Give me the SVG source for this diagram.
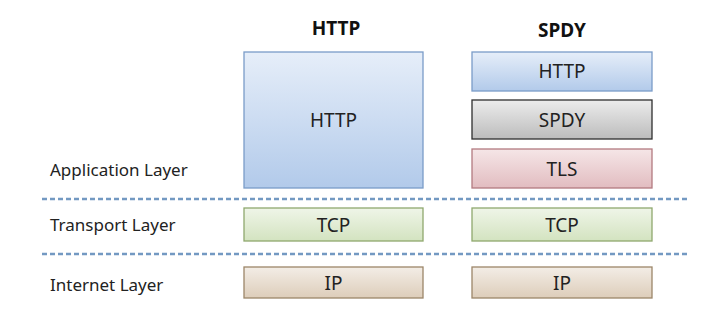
<svg xmlns="http://www.w3.org/2000/svg" width="712" height="310" viewBox="0 0 712 310">
<defs>
<linearGradient id="gBlue" x1="0" y1="0" x2="0" y2="1"><stop offset="0" stop-color="#e6eef9"/><stop offset="1" stop-color="#b2caea"/></linearGradient>
<linearGradient id="gGray" x1="0" y1="0" x2="0" y2="1"><stop offset="0" stop-color="#ececec"/><stop offset="1" stop-color="#bcbcbc"/></linearGradient>
<linearGradient id="gPink" x1="0" y1="0" x2="0" y2="1"><stop offset="0" stop-color="#f5e6e7"/><stop offset="1" stop-color="#e2bcc0"/></linearGradient>
<linearGradient id="gGreen" x1="0" y1="0" x2="0" y2="1"><stop offset="0" stop-color="#eff5e8"/><stop offset="1" stop-color="#d3e3c0"/></linearGradient>
<linearGradient id="gTan" x1="0" y1="0" x2="0" y2="1"><stop offset="0" stop-color="#f3ede6"/><stop offset="1" stop-color="#ddcdba"/></linearGradient>
<style>
text{font-family:"Noto Sans","DejaVu Sans",sans-serif;fill:#222;}
.lbl{font-size:17px;}
.box{font-size:19px;text-anchor:middle;}
.hdr{font-size:19px;font-weight:bold;text-anchor:middle;fill:#111;}
.blue{fill:url(#gBlue);stroke:#7a9cc8;stroke-width:1.3;}
.gray{fill:url(#gGray);stroke:#2e2e2e;stroke-width:1.3;}
.pink{fill:url(#gPink);stroke:#b37a80;stroke-width:1.3;}
.green{fill:url(#gGreen);stroke:#8fa86e;stroke-width:1.3;}
.tan{fill:url(#gTan);stroke:#9c8669;stroke-width:1.3;}
.dash{stroke:#7399c2;stroke-width:2.5;stroke-dasharray:5 3;fill:none;}
</style>
</defs>
<g id="headers">
<text class="hdr" x="336" y="35">HTTP</text>
<text class="hdr" x="562" y="37">SPDY</text>
</g>
<g id="layer-labels">
<text class="lbl" x="50" y="176">Application Layer</text>
<text class="lbl" x="50" y="231">Transport Layer</text>
<text class="lbl" x="50" y="291">Internet Layer</text>
</g>
<g id="separators">
<line class="dash" x1="42" y1="199" x2="688" y2="199"/>
<line class="dash" x1="42" y1="254" x2="688" y2="254"/>
</g>
<g id="http-app"><rect class="blue" x="244" y="52" width="179" height="136"/><text class="box" x="333.5" y="127">HTTP</text></g>
<g id="spdy-http"><rect class="blue" x="472" y="52" width="180" height="39"/><text class="box" x="562" y="78">HTTP</text></g>
<g id="spdy-spdy"><rect class="gray" x="472" y="100" width="180" height="39"/><text class="box" x="562" y="127">SPDY</text></g>
<g id="spdy-tls"><rect class="pink" x="472" y="149" width="180" height="39"/><text class="box" x="562" y="176">TLS</text></g>
<g id="http-tcp"><rect class="green" x="244" y="208" width="179" height="33"/><text class="box" x="333.5" y="232">TCP</text></g>
<g id="spdy-tcp"><rect class="green" x="472" y="208" width="180" height="33"/><text class="box" x="562" y="232">TCP</text></g>
<g id="http-ip"><rect class="tan" x="244" y="267" width="179" height="31"/><text class="box" x="333.5" y="290">IP</text></g>
<g id="spdy-ip"><rect class="tan" x="472" y="267" width="180" height="31"/><text class="box" x="562" y="290">IP</text></g>
</svg>
